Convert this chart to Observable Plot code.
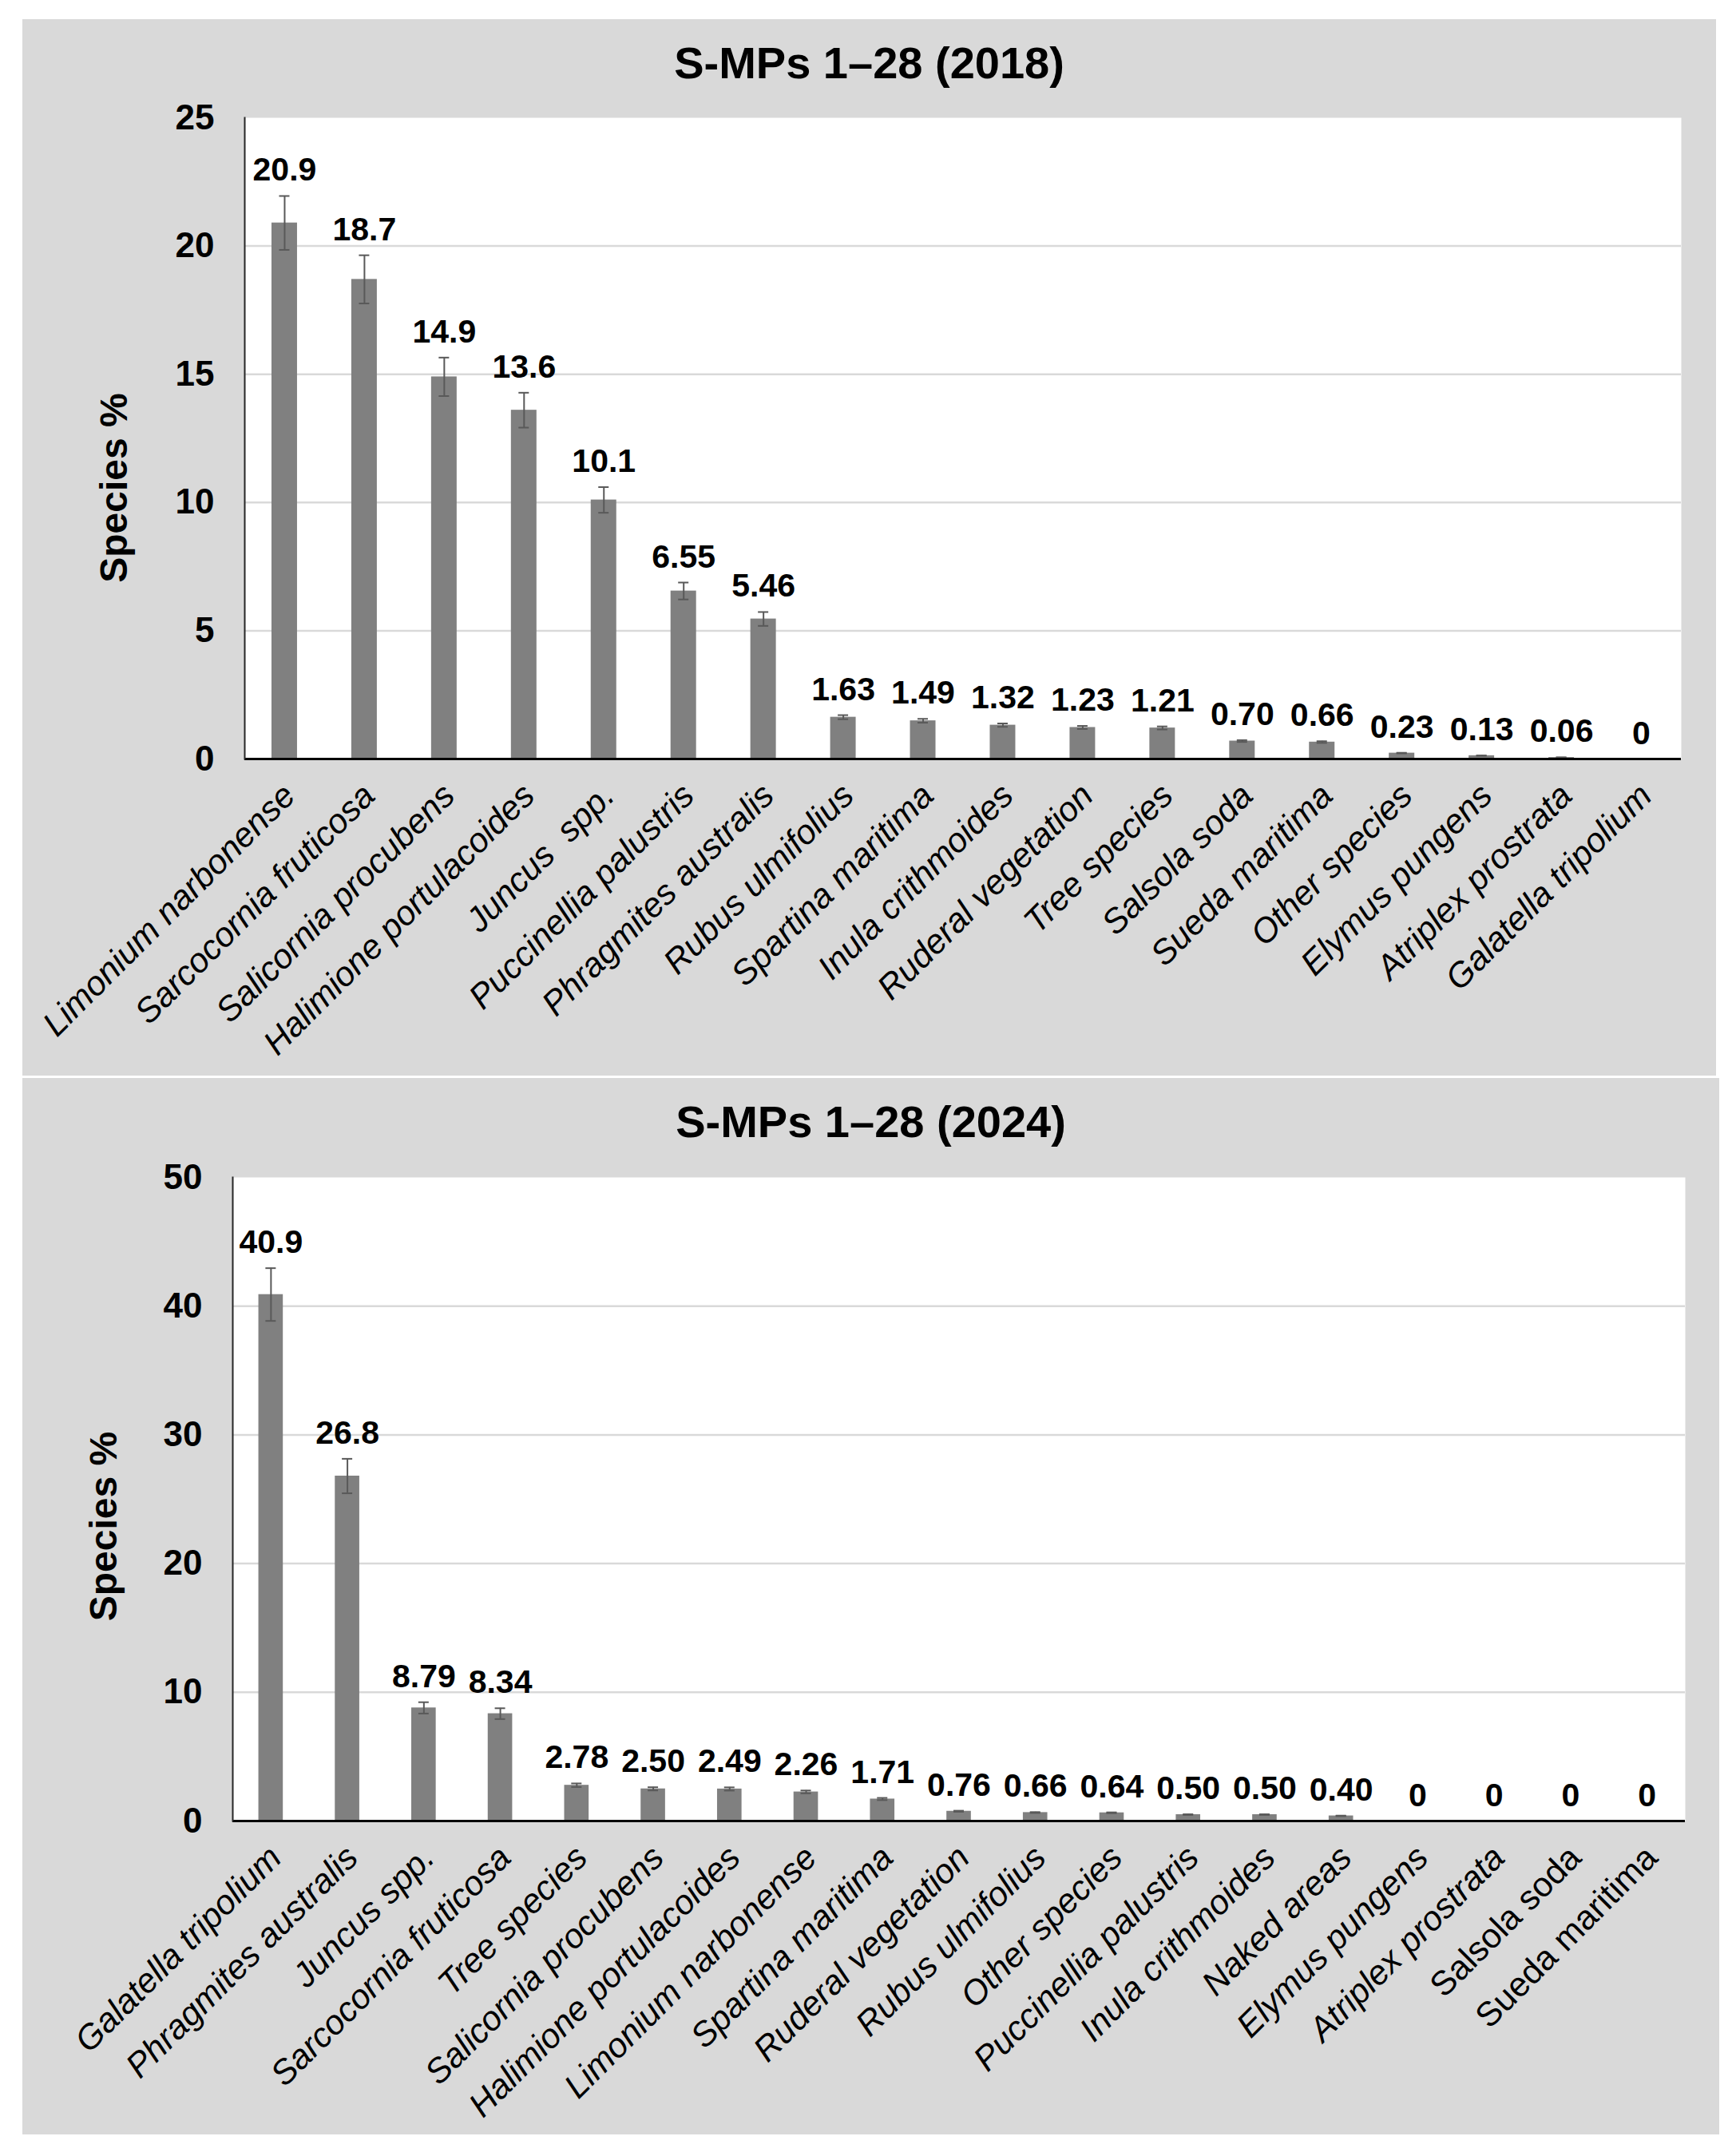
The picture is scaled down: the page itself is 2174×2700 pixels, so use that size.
<!DOCTYPE html>
<html>
<head>
<meta charset="utf-8">
<script src="https://cdn.jsdelivr.net/npm/d3@7"></script>
<script src="https://cdn.jsdelivr.net/npm/@observablehq/plot@0.6"></script>
<style>
  html, body { margin: 0; padding: 0; background: #ffffff; }
  body { width: 2174px; height: 2700px; position: relative; font-family: "Liberation Sans", Arial, sans-serif; }
  .panel { position: absolute; background: #d9d9d9; }
  .title { height: 110px; line-height: 110px; text-align: center; font-size: 56px; font-weight: bold; color: #000; }
  svg { display: block; }
</style>
</head>
<body>
<div class="panel" id="p1" style="left:28px; top:24px; width:2121px; height:1323px;">
  <div class="title">S-MPs 1–28 (2018)</div>
</div>
<div class="panel" id="p2" style="left:28px; top:1350px; width:2125px; height:1323px;">
  <div class="title">S-MPs 1–28 (2024)</div>
</div>
<script>
// ---- 2018 ----
const species2018 = [
  "Limonium narbonense", "Sarcocornia fruticosa", "Salicornia procubens", "Halimione portulacoides",
  "Juncus  spp.", "Puccinellia palustris", "Phragmites australis", "Rubus ulmifolius",
  "Spartina maritima", "Inula crithmoides", "Ruderal vegetation", "Tree species",
  "Salsola soda", "Sueda maritima", "Other species", "Elymus pungens",
  "Atriplex prostrata", "Galatella tripolium"
];
const values2018 = [20.9, 18.7, 14.9, 13.6, 10.1, 6.55, 5.46, 1.63, 1.49, 1.32, 1.23, 1.21, 0.70, 0.66, 0.23, 0.13, 0.06, 0];
const labels2018 = ["20.9", "18.7", "14.9", "13.6", "10.1", "6.55", "5.46", "1.63", "1.49", "1.32", "1.23", "1.21", "0.70", "0.66", "0.23", "0.13", "0.06", "0"];
const errors2018 = [1.05, 0.94, 0.75, 0.68, 0.5, 0.33, 0.27, 0.08, 0.075, 0.066, 0.06, 0.06, 0.035, 0.033, 0.012, 0.007, 0.003, 0];
const upright2018 = [];
const yTicks2018 = [0, 5, 10, 15, 20, 25];

// ---- 2024 ----
const species2024 = [
  "Galatella tripolium", "Phragmites australis", "Juncus spp.", "Sarcocornia fruticosa",
  "Tree species", "Salicornia procubens", "Halimione portulacoides", "Limonium narbonense",
  "Spartina maritima", "Ruderal vegetation", "Rubus ulmifolius", "Other species",
  "Puccinellia palustris", "Inula crithmoides", "Naked areas", "Elymus pungens",
  "Atriplex prostrata", "Salsola soda", "Sueda maritima"
];
const values2024 = [40.9, 26.8, 8.79, 8.34, 2.78, 2.50, 2.49, 2.26, 1.71, 0.76, 0.66, 0.64, 0.50, 0.50, 0.40, 0, 0, 0, 0];
const labels2024 = ["40.9", "26.8", "8.79", "8.34", "2.78", "2.50", "2.49", "2.26", "1.71", "0.76", "0.66", "0.64", "0.50", "0.50", "0.40", "0", "0", "0", "0"];
const errors2024 = [2.05, 1.34, 0.44, 0.42, 0.14, 0.125, 0.125, 0.11, 0.085, 0.04, 0.033, 0.032, 0.025, 0.025, 0.02, 0, 0, 0, 0];
const upright2024 = ["Salsola soda", "Sueda maritima"];
const yTicks2024 = [0, 10, 20, 30, 40, 50];

const FONT = "'Liberation Sans', Arial, sans-serif";

function makeChart({species, values, labels, errors, upright, yTicks, width, height, marginLeft, marginRight, marginTop, marginBottom, titleDx, titleDy}) {
  const rows = species.map((s, i) => ({s, v: values[i], lab: labels[i], e: errors[i], upright: upright.includes(s)}));
  const withErr = rows.filter(d => d.e > 0);
  const pInner = 0.68;
  const bandwidth = (width - marginLeft - marginRight) / species.length * (1 - pInner);
  const capInset = (bandwidth - 13) / 2;
  const yMax = yTicks[yTicks.length - 1];
  const labelOpts = {x: "s", frameAnchor: "bottom", text: "s", rotate: -45, textAnchor: "end", lineAnchor: "top", dy: 27, dx: -6, fontSize: 43, fill: "#000"};
  return Plot.plot({
    width, height, marginLeft, marginRight, marginTop, marginBottom,
    style: {fontFamily: FONT, color: "#000", background: "transparent", overflow: "visible"},
    x: {domain: species, paddingInner: pInner, paddingOuter: pInner / 2, round: false, axis: null},
    y: {domain: [0, yMax], axis: null},
    marks: [
      Plot.frame({fill: "#ffffff", stroke: null}),
      Plot.gridY(yTicks.slice(1, -1), {stroke: "#d9d9d9", strokeOpacity: 1, strokeWidth: 2.5}),
      Plot.barY(rows, {x: "s", y: "v", fill: "#808080"}),
      Plot.ruleX(withErr, {x: "s", y1: d => d.v - d.e, y2: d => d.v + d.e, stroke: "#595959", strokeWidth: 2}),
      Plot.tickY(withErr, {x: "s", y: d => d.v + d.e, stroke: "#595959", strokeWidth: 2, insetLeft: capInset, insetRight: capInset}),
      Plot.tickY(withErr, {x: "s", y: d => d.v - d.e, stroke: "#595959", strokeWidth: 2, insetLeft: capInset, insetRight: capInset}),
      Plot.ruleY([0], {stroke: "#000", strokeWidth: 3}),
      Plot.frame({anchor: "left", stroke: "#262626", strokeWidth: 2}),
      Plot.axisY(yTicks, {tickSize: 0, tickPadding: 38, fontSize: 44, fontWeight: "bold", label: null, fill: "#000"}),
      Plot.text(rows, {x: "s", y: d => d.v + d.e, text: "lab", dy: -19, lineAnchor: "bottom", fontSize: 41, fontWeight: "bold", fill: "#000"}),
      Plot.text(rows.filter(d => !d.upright), {...labelOpts, fontStyle: "italic"}),
      Plot.text(rows.filter(d => d.upright), labelOpts),
      Plot.text(["Species %"], {frameAnchor: "left", textAnchor: "middle", lineAnchor: "middle", rotate: -90, dx: titleDx, dy: titleDy, fontSize: 48, fontWeight: "bold", fill: "#000"})
    ]
  });
}

document.getElementById("p1").appendChild(makeChart({
  species: species2018, values: values2018, labels: labels2018, errors: errors2018, upright: upright2018, yTicks: yTicks2018,
  width: 2121, height: 1213, marginLeft: 278, marginRight: 44, marginTop: 13, marginBottom: 397, titleDx: -163, titleDy: 62
}));
document.getElementById("p2").appendChild(makeChart({
  species: species2024, values: values2024, labels: labels2024, errors: errors2024, upright: upright2024, yTicks: yTicks2024,
  width: 2125, height: 1213, marginLeft: 263, marginRight: 43, marginTop: 14, marginBottom: 393, titleDx: -161, titleDy: 34
}));
</script>
</body>
</html>
